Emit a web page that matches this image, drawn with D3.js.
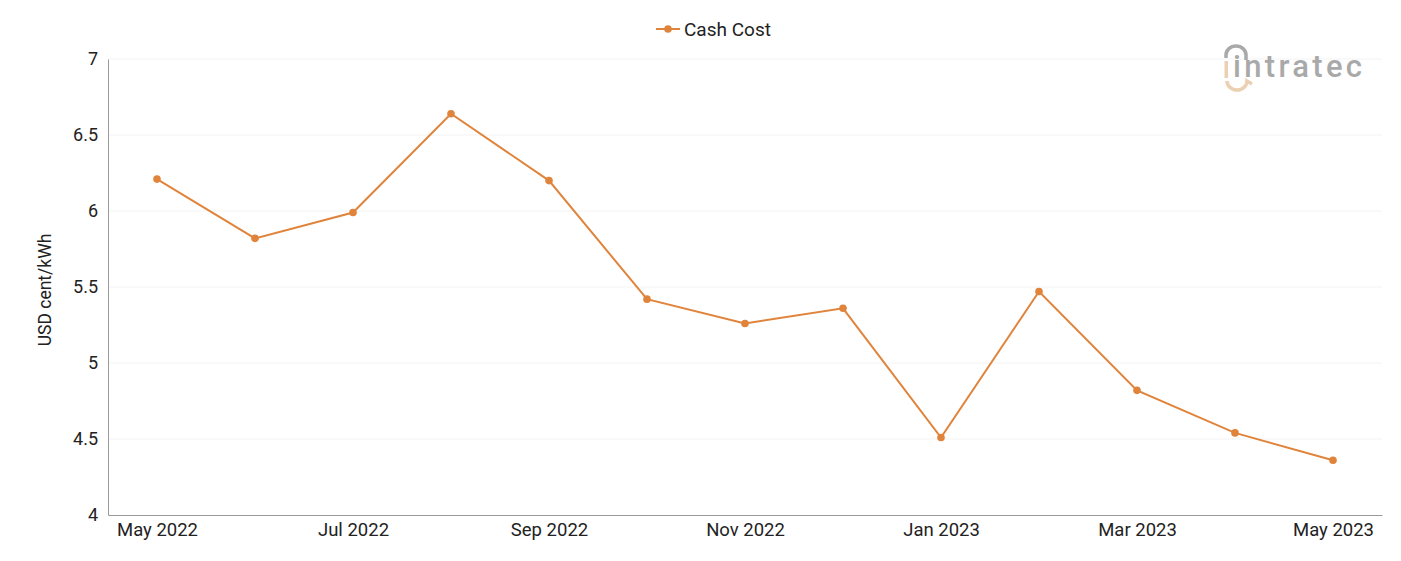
<!DOCTYPE html>
<html><head><meta charset="utf-8">
<script src="https://cdn.jsdelivr.net/npm/d3@7"></script>
<style>body{margin:0;background:#fff;font-family:Roboto,"Noto Sans",sans-serif}</style>
</head><body><svg id="c" width="1401" height="561"></svg>
<script>
const months = ["May 2022","Jun 2022","Jul 2022","Aug 2022","Sep 2022","Oct 2022","Nov 2022","Dec 2022","Jan 2023","Feb 2023","Mar 2023","Apr 2023","May 2023"];
const cashCost = [6.21,5.82,5.99,6.64,6.20,5.42,5.26,5.36,4.51,5.47,4.82,4.54,4.36];
const yTicks = [4,4.5,5,5.5,6,6.5,7];
const xTickLabels = ["May 2022","Jul 2022","Sep 2022","Nov 2022","Jan 2023","Mar 2023","May 2023"];
const seriesName = "Cash Cost";
const color = "#e0843c";

const svg = d3.select("#c");
const L=108,R=1382,T=59,B=515;
const x = d3.scalePoint().domain(months).range([L,R]).padding(0.5);
const y = d3.scaleLinear().domain([4,7]).range([B,T]);

// grid
svg.append("g").selectAll("line").data(yTicks.slice(1)).join("line")
  .attr("x1",L).attr("x2",R).attr("y1",d=>y(d)).attr("y2",d=>y(d))
  .attr("stroke","#f3f3f3").attr("stroke-width",1);

// y axis
const ya = svg.append("g").attr("transform",`translate(${L},0)`)
  .call(d3.axisLeft(y).tickValues(yTicks).tickSize(0).tickPadding(10).tickFormat(d3.format("")));
ya.select(".domain").attr("stroke","#9a9a9a");
ya.selectAll("text").attr("font-size",18).attr("fill","#222").attr("font-family","Roboto");

// x axis
const xa = svg.append("g").attr("transform",`translate(0,${B})`)
  .call(d3.axisBottom(x).tickValues(xTickLabels).tickSize(0).tickPadding(8));
xa.select(".domain").attr("stroke","#9a9a9a");
xa.selectAll("text").attr("font-size",18.5).attr("fill","#222").attr("font-family","Roboto");

// y label
svg.append("text").attr("transform",`translate(51,${(T+B)/2 + 3}) rotate(-90)`)
  .attr("text-anchor","middle").attr("font-size",17.5).attr("fill","#222").text("USD cent/kWh");

// line
svg.append("path").datum(cashCost)
  .attr("d",d3.line().x((d,i)=>x(months[i])).y(d=>y(d)))
  .attr("fill","none").attr("stroke",color).attr("stroke-width",2);
svg.append("g").selectAll("circle").data(cashCost).join("circle")
  .attr("cx",(d,i)=>x(months[i])).attr("cy",d=>y(d)).attr("r",3.8).attr("fill",color);

// legend
const lg = svg.append("g");
lg.append("line").attr("x1",656).attr("x2",680).attr("y1",29).attr("y2",29).attr("stroke",color).attr("stroke-width",2);
lg.append("circle").attr("cx",668).attr("cy",29).attr("r",3.8).attr("fill",color);
lg.append("text").attr("x",684).attr("y",36).attr("font-size",19).attr("fill","#222").text(seriesName);

// logo
const lo = svg.append("g").attr("opacity",0.85);
lo.append("path").attr("d","M1226,58 L1226,55 A10,9 0 0 1 1246,55 L1246,60").attr("fill","none").attr("stroke","#9b9b9b").attr("stroke-width",3.5);
lo.append("path").attr("d","M1227,81 A10,9 0 0 0 1247,81 L1252,84").attr("fill","none").attr("stroke","#e8c8a8").attr("stroke-width",3.5);
lo.append("rect").attr("x",1224.5).attr("y",61).attr("width",3.5).attr("height",17).attr("fill","#e8c8a8");
lo.append("text").attr("x",1233).attr("y",77).attr("font-size",31).attr("font-weight",500).attr("fill","#9b9b9b")
  .attr("textLength",129).attr("lengthAdjust","spacing").text("intratec");
</script></body></html>
